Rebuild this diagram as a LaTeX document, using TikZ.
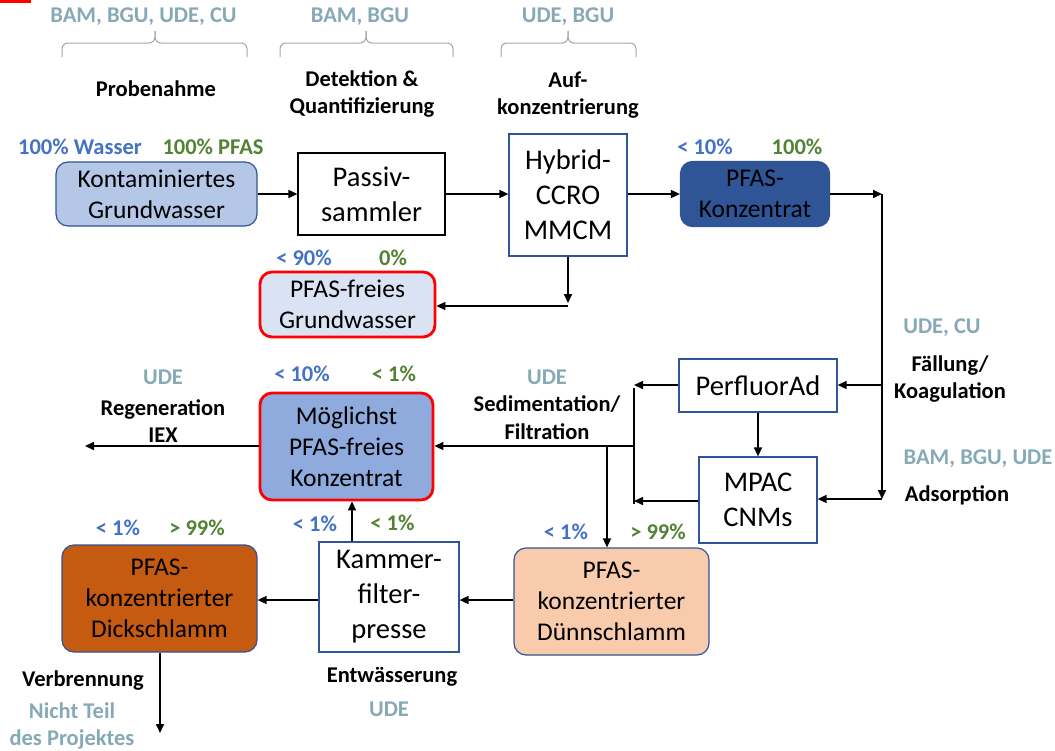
\documentclass[tikz,border=0pt]{standalone}
\usepackage{fontspec}
\setmainfont{Carlito}
\usetikzlibrary{arrows.meta}
\definecolor{cTeal}{HTML}{86A9B6}
\definecolor{cBlue}{HTML}{4472C4}
\definecolor{cGreen}{HTML}{548235}
\definecolor{cBord}{HTML}{2F5597}
\definecolor{cKont}{HTML}{B4C7E7}
\definecolor{cDark}{HTML}{2F5597}
\definecolor{cLight}{HTML}{DAE3F3}
\definecolor{cMog}{HTML}{8FAADC}
\definecolor{cDick}{HTML}{C55A11}
\definecolor{cDun}{HTML}{F8CBAD}
\definecolor{cBrace}{HTML}{A6A6A6}
\begin{document}
\begin{tikzpicture}[x=1pt,y=-1pt,
  arr/.style={line width=1.6pt,-{Triangle[length=9pt,width=8pt]}},
  ln/.style={line width=1.6pt},
  bx/.style={draw=cBord,line width=1.2pt,align=center,inner sep=0pt,fill=white,font=\fontsize{28.5}{35}\selectfont},
  rb/.style={bx,rounded corners=12pt,font=\fontsize{25.5}{31}\selectfont},
  redb/.style={draw=red,line width=2.8pt},
  lab/.style={font=\fontsize{22.5}{27.5}\selectfont\bfseries,align=center,inner sep=0pt},
  tl/.style={lab,text=cTeal},
  bl/.style={lab,text=cBlue},
  gl/.style={lab,text=cGreen},
  br/.style={draw=cBrace,line width=1pt,rounded corners=6pt}]
\useasboundingbox (0,0) rectangle (1055,750);
\fill[red] (0,0) rectangle (31,2.5);

% braces
\draw[br] (62,57) |- (155,43) -- (155,31);
\draw[br] (247,57) |- (155,43) -- (155,31);
\draw[br] (280,57) |- (366,43) -- (366,31);
\draw[br] (453,57) |- (366,43) -- (366,31);
\draw[br] (501,57) |- (568,43) -- (568,31);
\draw[br] (636,57) |- (568,43) -- (568,31);

% top labels
\node[tl] (t1) at (143.5,16.5) {BAM, BGU, UDE, CU};
\node[tl] (t2) at (360,16.5) {BAM, BGU};
\node[tl] (t3) at (568,16.5) {UDE, BGU};
\node[lab] (s1) at (156,89) {Probenahme};
\node[lab] (s2) at (362,94) {Detektion \&\\Quantifizierung};
\node[lab] (s3) at (568,95) {Auf-\\konzentrierung};

% boxes
\node[rb,fill=cKont,minimum width=201pt,minimum height=64pt] (kg) at (156.5,194) {Kontaminiertes\\Grundwasser};
\node[bx,draw=black,minimum width=147pt,minimum height=82pt] (ps) at (371.5,194) {Passiv-\\sammler};
\node[bx,minimum width=118pt,minimum height=122pt] (hy) at (568,195) {Hybrid-\\CCRO\\MMCM};
\node[rb,fill=cDark,minimum width=149pt,minimum height=65pt] (pk) at (755,194) {PFAS-\\Konzentrat};
\node[rb,redb,fill=cLight,minimum width=175pt,minimum height=65pt] (pfg) at (347.5,304.5) {PFAS-freies\\Grundwasser};
\node[bx,minimum width=158pt,minimum height=53pt] (pa) at (758,385.5) {PerfluorAd};
\node[bx,minimum width=118pt,minimum height=86pt] (mp) at (758,500) {MPAC\\CNMs};
\node[rb,redb,fill=cMog,minimum width=173pt,minimum height=107pt] (mg) at (346.5,446.5) {Möglichst\\PFAS-freies\\Konzentrat};
\node[rb,fill=cDick,minimum width=195pt,minimum height=107pt] (dick) at (159.5,598.5) {PFAS-\\konzentrierter\\Dickschlamm};
\node[bx,minimum width=140pt,minimum height=110pt] (kam) at (389,597) {Kammer-\\filter-\\presse};
\node[rb,fill=cDun,minimum width=195pt,minimum height=107pt] (dun) at (611.5,601.5) {PFAS-\\konzentrierter\\Dünnschlamm};

% percent labels
\node[bl] (p1) at (80,147) {100\% Wasser};
\node[gl] (p2) at (213,147) {100\% PFAS};
\node[bl] (p3) at (705,147) {< 10\%};
\node[gl] (p4) at (797,147) {100\%};
\node[bl] (p5) at (304,258) {< 90\%};
\node[gl] (p6) at (393,258) {0\%};
\node[bl] (p7) at (302,374) {< 10\%};
\node[gl] (p8) at (394,374) {< 1\%};
\node[bl] (p9) at (315,524) {< 1\%};
\node[gl] (p10) at (392.5,523) {< 1\%};
\node[bl] (p11) at (118,528) {< 1\%};
\node[gl] (p12) at (197,528) {> 99\%};
\node[bl] (p13) at (566,532) {< 1\%};
\node[gl] (p14) at (658,532) {> 99\%};

% process labels
\node[tl] (u1) at (942,328) {UDE, CU};
\node[lab] (f1) at (950,379) {Fällung/\\Koagulation};
\node[tl] (u2) at (978,459) {BAM, BGU, UDE};
\node[lab] (f2) at (957,495) {Adsorption};
\node[tl] (u3) at (547,377) {UDE};
\node[lab] (f3) at (547,417.5) {Sedimentation/\\Filtration};
\node[tl] (u4) at (163,377) {UDE};
\node[lab] (f4) at (163,421) {Regeneration\\IEX};
\node[lab] (f5) at (392,677) {Entwässerung};
\node[tl] (u5) at (389,709) {UDE};
\node[lab] (f6) at (83,681) {Verbrennung};
\node[tl] (u6) at (72,726) {Nicht Teil\\des Projektes};

% junction coordinates
\coordinate (c1) at (882,194);
\coordinate (c2) at (882,499);
\coordinate (c3) at (882,385);
\coordinate (c4) at (634,385);
\coordinate (c4a) at (634,388);
\coordinate (c5) at (634,501);
\coordinate (c5a) at (634,504);
\coordinate (c6) at (634,446);
\coordinate (c7) at (607,446);
\coordinate (c8) at (85,446);
\coordinate (c9) at (568,303);
\coordinate (c10) at (568,306);
\coordinate (c11) at (352,0);
\coordinate (c12) at (0,600);
\coordinate (c13) at (160,733);

% connectors
\draw[arr] (kg.east |- c1) -- (ps.west |- c1);
\draw[arr] (ps.east |- c1) -- (hy.west |- c1);
\draw[arr] (hy.east |- c1) -- (pk.west |- c1);
\draw[arr] (pk.east |- c1) -- (c1);
\draw[arr] (c1) -- (c2);
\draw[arr] (c3) -- (pa.east |- c3);
\draw[arr] (c2) -- (mp.east |- c2);
\draw[arr] (pa.south) -- (mp.north);
\draw[arr] (pa.west |- c4) -- (c4);
\draw[arr] (mp.west |- c5) -- (c5);
\draw[ln] (c4a) -- (c5a);
\draw[arr] (c6) -- (mg.east |- c6);
\draw[arr] (c7) -- (c7 |- dun.north);
\draw[arr] (mg.west |- c6) -- (c8);
\draw[arr] (hy.south) -- (c9);
\draw[arr] (c10) -- (c10 -| pfg.east);
\draw[arr] (kam.north -| c11) -- (mg.south -| c11);
\draw[arr] (dun.west |- c12) -- (kam.east |- c12);
\draw[arr] (kam.west |- c12) -- (dick.east |- c12);
\draw[arr] (dick.south -| c13) -- (c13);
\end{tikzpicture}
\end{document}
